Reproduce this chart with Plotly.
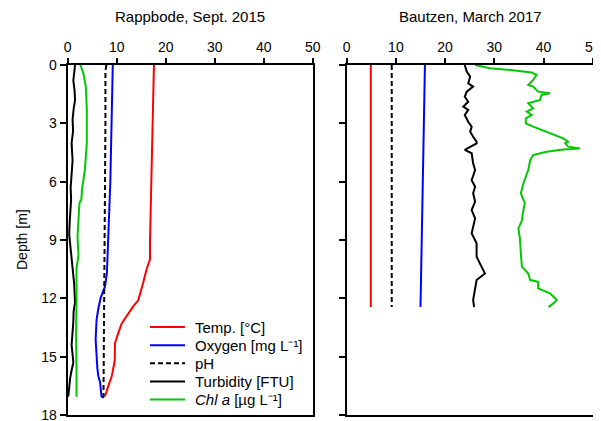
import plotly.graph_objects as go

# ---------------- data: Rappbode, Sept. 2015 ----------------
rb_temp_depth = [0, 3, 6, 9, 10.0, 10.5, 11.2, 12.1, 12.4, 12.9, 13.3, 13.8, 14.3, 15.2, 16.0, 16.5, 17.05]
rb_temp = [17.6, 17.3, 17.1, 16.8, 16.8, 16.1, 15.4, 14.4, 13.4, 12.0, 11.0, 10.3, 9.65, 9.6, 9.0, 8.3, 7.6]

rb_oxy_depth = [0, 3, 6, 8.7, 10.0, 10.7, 11.4, 12.0, 12.6, 13.1, 14.1, 15.2, 15.6, 16.0, 16.3, 17.05, 17.1]
rb_oxy = [9.2, 9.0, 8.7, 8.3, 8.1, 8.0, 7.6, 6.7, 6.2, 5.9, 5.7, 5.9, 6.05, 6.25, 6.6, 6.9, 7.4]

rb_ph_depth = [0, 0.3, 3, 6, 9, 12, 15, 16.5, 17.1]
rb_ph = [7.9, 7.7, 7.7, 7.6, 7.6, 7.5, 7.4, 7.3, 7.3]

rb_turb_depth = [0.0, 0.4, 0.8, 1.3, 1.8, 2.3, 2.8, 3.4, 4.0, 4.5, 4.9, 5.6, 6.3, 6.9, 7.5, 8.1, 8.7, 9.2,
                 9.8, 10.5, 11.2, 12.2, 12.7, 13.2, 13.8, 14.4, 14.9, 15.3, 15.7, 16.1, 16.6, 17.06]
rb_turb = [1.5, 1.3, 1.15, 1.4, 1.5, 1.2, 1.0, 1.1, 0.8, 0.9, 1.0, 0.8, 0.6, 0.7, 0.5, 0.4, 0.3, 0.5,
           0.8, 1.15, 1.3, 1.5, 1.2, 1.15, 0.9, 0.8, 1.0, 1.15, 0.8, 0.5, 0.3, 0.1]

rb_chl_depth = [0, 0.43, 1.11, 2.3, 4.03, 5.4, 6.43, 6.9, 7.1, 7.97, 8.83, 9.77, 10.46, 12.17, 13.9, 15.6, 17.06]
rb_chl = [2.6, 3.2, 3.7, 3.9, 3.9, 3.5, 2.9, 2.8, 2.4, 2.2, 2.0, 2.2, 1.8, 1.8, 1.7, 1.8, 1.8]

# ---------------- data: Bautzen, March 2017 ----------------
bz_temp_depth = [0, 12.45]
bz_temp = [4.9, 4.9]

bz_ph_depth = [0, 12.45]
bz_ph = [9.15, 9.15]

bz_oxy_depth = [0, 12.45]
bz_oxy = [15.9, 15.0]

bz_turb_depth = [0.0, 0.34, 0.6, 0.94, 1.11, 1.37, 1.63, 1.89, 2.14, 2.31, 2.57, 2.92, 3.17, 3.43, 3.69,
                 3.94, 4.03, 4.37, 4.54, 5.06, 5.4, 5.92, 6.26, 6.6, 7.03, 7.46, 7.89, 8.66, 9.17, 9.86,
                 10.37, 10.72, 11.06, 11.57, 12.09, 12.45]
bz_turb = [24.0, 24.4, 25.1, 24.7, 25.7, 24.4, 24.0, 24.7, 23.7, 24.7, 24.0, 24.7, 25.4, 25.1, 25.7,
           26.4, 26.4, 24.0, 25.4, 25.7, 26.1, 25.4, 26.1, 25.7, 26.1, 25.4, 26.1, 25.4, 26.4, 26.4,
           27.4, 28.1, 26.4, 26.1, 25.7, 25.9]

bz_chl_depth = [0.0, 0.17, 0.29, 0.39, 0.51, 0.77, 1.03, 1.11, 1.37, 1.45, 1.54, 1.8, 1.97, 2.23, 2.4,
                2.57, 2.74, 3.0, 3.17, 3.34, 3.6, 3.77, 3.94, 4.03, 4.2, 4.29, 4.34, 4.46, 4.63, 4.89,
                5.4, 6.09, 6.6, 7.11, 7.63, 8.0, 8.4, 8.91, 9.69, 10.37, 10.72, 11.06, 11.15, 11.49,
                11.74, 12.09, 12.26, 12.45]
bz_chl = [26.1, 29.1, 34.6, 37.6, 38.6, 37.9, 36.9, 37.9, 38.9, 41.3, 39.6, 39.3, 36.9, 37.9, 36.6,
          37.6, 36.4, 36.4, 37.9, 39.6, 42.0, 44.0, 45.0, 44.4, 45.0, 47.4, 44.0, 40.6, 37.9, 37.3,
          36.9, 35.9, 35.4, 36.2, 35.8, 35.6, 34.9, 35.2, 35.4, 35.6, 36.9, 37.3, 38.9, 38.9,
          41.3, 42.7, 42.0, 41.0]

names = ["Temp. [°C]", "Oxygen [mg L⁻¹]", "pH", "Turbidity [FTU]", "<i>Chl a</i> [µg L⁻¹]"]
colors = ["#ff0000", "#0000ff", "#000000", "#000000", "#00c800"]
dashes = ["solid", "solid", "5px,3px", "solid", "solid"]

left = [(rb_temp, rb_temp_depth), (rb_oxy, rb_oxy_depth), (rb_ph, rb_ph_depth),
        (rb_turb, rb_turb_depth), (rb_chl, rb_chl_depth)]
right = [(bz_temp, bz_temp_depth), (bz_oxy, bz_oxy_depth), (bz_ph, bz_ph_depth),
         (bz_turb, bz_turb_depth), (bz_chl, bz_chl_depth)]

fig = go.Figure()
for i, (xv, yv) in enumerate(left):
    fig.add_trace(go.Scatter(x=xv, y=yv, mode="lines", name=names[i],
                             line=dict(color=colors[i], width=2, dash=dashes[i]),
                             xaxis="x", yaxis="y", showlegend=False))
for i, (xv, yv) in enumerate(right):
    fig.add_trace(go.Scatter(x=xv, y=yv, mode="lines", name=names[i],
                             line=dict(color=colors[i], width=2, dash=dashes[i]),
                             xaxis="x2", yaxis="y2", showlegend=False))

# page body has an 8px margin: figure pixel = reference pixel - 8
W, H = 601, 421
OFF = 8
font = "Liberation Sans, Arial, sans-serif"


def px(x):
    return (x - OFF) / W


def py(y):
    return 1 - (y - OFF) / H


xcommon = dict(range=[0, 50], side="top", tickvals=[0, 10, 20, 30, 40, 50], ticks="outside",
               ticklen=5, tickwidth=1.5, tickcolor="black", showline=True, linecolor="black",
               linewidth=2, mirror=True, showgrid=False, zeroline=False,
               ticklabeloverflow="allow",
               tickfont=dict(size=14, color="black", family=font), automargin=False)
ycommon = dict(range=[18, 0], tickvals=[0, 3, 6, 9, 12, 15, 18], ticks="outside", ticklen=6,
               tickwidth=1.5, tickcolor="black", showline=True, linecolor="black", linewidth=2,
               mirror=True, showgrid=False, zeroline=False,
               ticklabeloverflow="allow",
               tickfont=dict(size=14, color="black", family=font), automargin=False)
ydom = [py(415), py(65)]

# manual legend (line samples + labels) inside the left panel
shapes = []
annotations = [
    dict(text="Rappbode, Sept. 2015", x=px(190), y=py(17), xref="paper", yref="paper",
         showarrow=False, xanchor="center", yanchor="middle", font=dict(size=15)),
    dict(text="Bautzen, March 2017", x=px(470), y=py(17), xref="paper", yref="paper",
         showarrow=False, xanchor="center", yanchor="middle", font=dict(size=15)),
    dict(text="Depth [m]", x=px(22), y=py(240), xref="paper", yref="paper",
         showarrow=False, xanchor="center", yanchor="middle", textangle=-90,
         font=dict(size=14)),
]
for i, nm in enumerate(names):
    yy = py(327 + 18.15 * i)
    shapes.append(dict(type="line", xref="paper", yref="paper", x0=px(150), x1=px(185),
                       y0=yy, y1=yy, line=dict(color=colors[i], width=2, dash=dashes[i])))
    annotations.append(dict(text=nm, x=px(193), y=yy, xref="paper", yref="paper",
                            showarrow=False, xanchor="left", yanchor="middle",
                            font=dict(size=15)))

fig.update_layout(
    width=W, height=H, margin=dict(l=0, r=0, t=0, b=0),
    paper_bgcolor="white", plot_bgcolor="white",
    font=dict(family=font, size=14, color="black"),
    showlegend=False,
    xaxis=dict(domain=[px(67.7), px(312.7)], anchor="y", **xcommon),
    yaxis=dict(domain=ydom, anchor="x", showticklabels=True, **ycommon),
    xaxis2=dict(domain=[px(346.7), px(592.7)], anchor="y2", **xcommon),
    yaxis2=dict(domain=ydom, anchor="x2", showticklabels=False, **ycommon),
    shapes=shapes,
    annotations=annotations,
)

fig.write_html("out.html")
